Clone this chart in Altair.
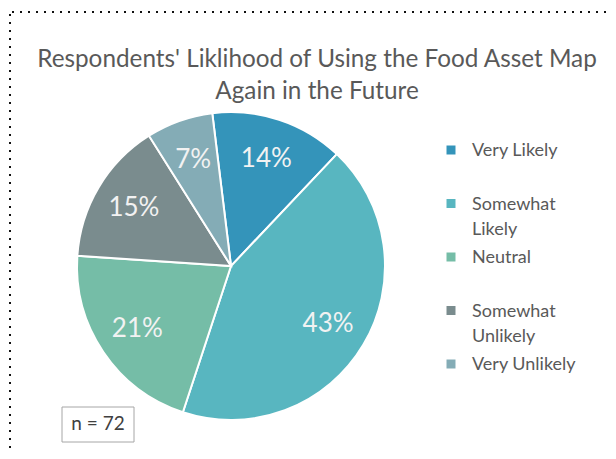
import math
import altair as alt
import pandas as pd

# ---- data ----
categories = ["Very Likely", "Somewhat Likely", "Neutral", "Somewhat Unlikely", "Very Unlikely"]
legend_labels = ["Very Likely", "Somewhat\nLikely", "Neutral", "Somewhat\nUnlikely", "Very Unlikely"]
percents = [14, 43, 21, 15, 7]
colors = ["#3494BA", "#58B6C0", "#75BDA7", "#7A8C8E", "#84ACB6"]
title_lines = ["Respondents' Liklihood of Using the Food Asset Map", "Again in the Future"]
sample_note = "n = 72"

df = pd.DataFrame({
    "category": categories,
    "legend": legend_labels,
    "percent": percents,
    "order": list(range(len(categories))),
})
df["label"] = df["percent"].astype(str) + "%"

W, H = 600, 443
CX, CY = 223, 258
R = 154
START = -0.122
FONT = "Lato"
TXT = "#595959"

theta = alt.Theta("percent:Q", stack=True,
                  scale=alt.Scale(domain=[0, 100], range=[START, START + 2 * math.pi]))
color = alt.Color("category:N", scale=alt.Scale(domain=categories, range=colors), legend=None)
order = alt.Order("order:Q")
ly = alt.Y("category:N", axis=None,
           scale=alt.Scale(domain=categories, range=[142, 356], padding=0))

base = alt.Chart(df)

arcs = base.mark_arc(outerRadius=R, stroke="white", strokeWidth=2).encode(
    theta=theta, color=color, order=order, x=alt.value(CX), y=alt.value(CY))

labels = base.mark_text(radius=113, fontSize=26, font=FONT,
                        color="#F2F2F2").encode(
    theta=theta, order=order, text="label:N", x=alt.value(CX), y=alt.value(CY))

leg_sq = base.mark_square(size=81, opacity=1).encode(
    x=alt.value(443), y=ly, color=color)

leg_txt = base.mark_text(align="left", baseline="top", dy=-8, fontSize=18, font=FONT,
                         color=TXT, lineBreak="\n", lineHeight=25.5).encode(
    x=alt.value(464), y=ly, text="legend:N")

tdf = pd.DataFrame({"t": ["\n".join(title_lines)]})
title = alt.Chart(tdf).mark_text(align="center", baseline="top", fontSize=24.3, font=FONT,
                                 color=TXT, lineBreak="\n", lineHeight=32).encode(
    x=alt.value(309), y=alt.value(40), text="t:N")

ndf = pd.DataFrame({"t": [sample_note]})
nbox = alt.Chart(ndf).mark_rect(fill="white", stroke="#A6A6A6", strokeWidth=1).encode(
    x=alt.value(54), x2=alt.value(126), y=alt.value(399), y2=alt.value(434))
ntext = alt.Chart(ndf).mark_text(align="center", baseline="middle", fontSize=19, font=FONT,
                                 color="#404040").encode(
    x=alt.value(90), y=alt.value(416), text="t:N")

top_border = alt.Chart(ndf).mark_rule(strokeDash=[2, 6], strokeWidth=2, color="#111111").encode(
    x=alt.value(4), x2=alt.value(600), y=alt.value(4))
left_border = alt.Chart(ndf).mark_rule(strokeDash=[2, 6], strokeWidth=2, color="#111111").encode(
    x=alt.value(2), y=alt.value(6), y2=alt.value(443))

chart = alt.layer(
    arcs, labels, leg_sq, leg_txt, title, nbox, ntext, top_border, left_border
).properties(
    width=W, height=H, autosize="none", padding=0
).configure_view(stroke=None)

chart.save("out.html", embed_options={"renderer": "svg", "actions": False})
